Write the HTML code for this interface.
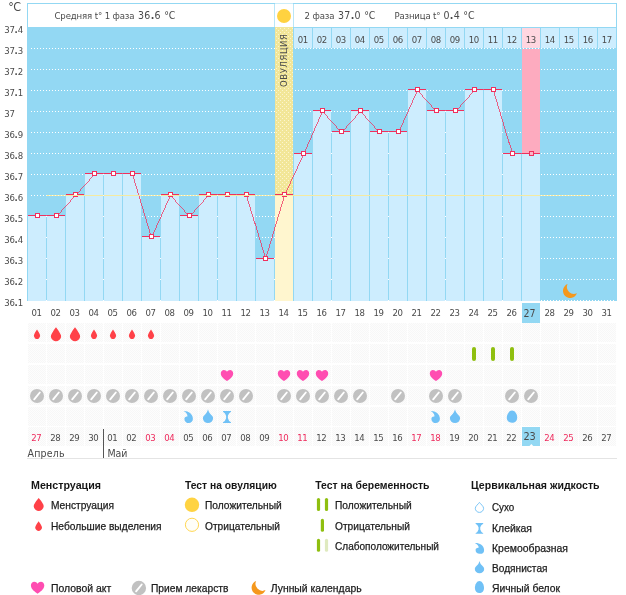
<!DOCTYPE html>
<html lang="ru">
<head>
<meta charset="utf-8">
<title>График базальной температуры</title>
<style>
html,body{margin:0;padding:0;background:#fff;}
body{width:626px;height:595px;overflow:hidden;font-family:'Liberation Sans', sans-serif;}
svg{display:block;font-family:'Liberation Sans', sans-serif;}
.c{font-family:'DejaVu Sans Condensed', 'DejaVu Sans', 'Liberation Sans', sans-serif;}
.l{font-family:'Liberation Sans', sans-serif;}
svg rect:not([rx]){shape-rendering:crispEdges;}
</style>
</head>
<body>
<svg width="626" height="595" viewBox="0 0 626 595">
<defs>
<pattern id="ydots" width="4" height="4" patternUnits="userSpaceOnUse" x="275" y="27">
<rect width="4" height="4" fill="#f2e698"/>
<rect x="1" y="1" width="1" height="1" fill="#fbf5cf"/>
<rect x="3" y="3" width="1" height="1" fill="#fbf5cf"/>
</pattern>
<pattern id="hatch" width="2" height="2" patternUnits="userSpaceOnUse">
<rect width="2" height="2" fill="#fdfdfd"/>
<rect width="1" height="1" fill="#f7f7f7"/>
<rect x="1" y="1" width="1" height="1" fill="#f7f7f7"/>
</pattern>
</defs>
<rect x="27" y="3" width="590" height="24" fill="#93d8f3"/>
<rect x="28" y="4" width="588" height="23" fill="#fff"/>
<rect x="274" y="4" width="1" height="23" fill="#b9e6f8"/>
<rect x="293" y="4" width="1" height="23" fill="#b9e6f8"/>
<rect x="275" y="3" width="18" height="1" fill="#c9ecfa"/>
<circle cx="284" cy="16" r="7" fill="#ffd240"/>
<rect x="27" y="27" width="590" height="274" fill="#93d8f3"/>
<rect x="294" y="28" width="18" height="20" fill="#cdedfe"/>
<rect x="313" y="28" width="18" height="20" fill="#cdedfe"/>
<rect x="332" y="28" width="18" height="20" fill="#cdedfe"/>
<rect x="351" y="28" width="18" height="20" fill="#cdedfe"/>
<rect x="370" y="28" width="18" height="20" fill="#cdedfe"/>
<rect x="389" y="28" width="18" height="20" fill="#cdedfe"/>
<rect x="408" y="28" width="18" height="20" fill="#cdedfe"/>
<rect x="427" y="28" width="18" height="20" fill="#cdedfe"/>
<rect x="446" y="28" width="18" height="20" fill="#cdedfe"/>
<rect x="465" y="28" width="18" height="20" fill="#cdedfe"/>
<rect x="484" y="28" width="18" height="20" fill="#cdedfe"/>
<rect x="503" y="28" width="18" height="20" fill="#cdedfe"/>
<rect x="522" y="28" width="18" height="20" fill="#ffd6e0"/>
<rect x="541" y="28" width="18" height="20" fill="#cdedfe"/>
<rect x="560" y="28" width="18" height="20" fill="#cdedfe"/>
<rect x="579" y="28" width="18" height="20" fill="#cdedfe"/>
<rect x="598" y="28" width="18" height="20" fill="#cdedfe"/>
<path d="M31 48.5H616" stroke="#fff" stroke-width="1" stroke-dasharray="1 2" shape-rendering="crispEdges"/>
<path d="M31 69.5H616" stroke="#fff" stroke-width="1" stroke-dasharray="1 2" shape-rendering="crispEdges"/>
<path d="M31 90.5H616" stroke="#fff" stroke-width="1" stroke-dasharray="1 2" shape-rendering="crispEdges"/>
<path d="M31 111.5H616" stroke="#fff" stroke-width="1" stroke-dasharray="1 2" shape-rendering="crispEdges"/>
<path d="M31 132.5H616" stroke="#fff" stroke-width="1" stroke-dasharray="1 2" shape-rendering="crispEdges"/>
<path d="M31 153.5H616" stroke="#fff" stroke-width="1" stroke-dasharray="1 2" shape-rendering="crispEdges"/>
<path d="M31 174.5H616" stroke="#fff" stroke-width="1" stroke-dasharray="1 2" shape-rendering="crispEdges"/>
<path d="M31 195.5H616" stroke="#fff" stroke-width="1" stroke-dasharray="1 2" shape-rendering="crispEdges"/>
<path d="M31 216.5H616" stroke="#fff" stroke-width="1" stroke-dasharray="1 2" shape-rendering="crispEdges"/>
<path d="M31 237.5H616" stroke="#fff" stroke-width="1" stroke-dasharray="1 2" shape-rendering="crispEdges"/>
<path d="M31 258.5H616" stroke="#fff" stroke-width="1" stroke-dasharray="1 2" shape-rendering="crispEdges"/>
<path d="M31 279.5H616" stroke="#fff" stroke-width="1" stroke-dasharray="1 2" shape-rendering="crispEdges"/>
<path d="M31 300.5H616" stroke="#fff" stroke-width="1" stroke-dasharray="1 2" shape-rendering="crispEdges"/>
<rect x="28" y="216" width="18" height="85" fill="#cdedfe"/>
<rect x="47" y="216" width="18" height="85" fill="#cdedfe"/>
<rect x="66" y="195" width="18" height="106" fill="#cdedfe"/>
<rect x="85" y="174" width="18" height="127" fill="#cdedfe"/>
<rect x="104" y="174" width="18" height="127" fill="#cdedfe"/>
<rect x="123" y="174" width="18" height="127" fill="#cdedfe"/>
<rect x="142" y="237" width="18" height="64" fill="#cdedfe"/>
<rect x="161" y="195" width="18" height="106" fill="#cdedfe"/>
<rect x="180" y="216" width="18" height="85" fill="#cdedfe"/>
<rect x="199" y="195" width="18" height="106" fill="#cdedfe"/>
<rect x="218" y="195" width="18" height="106" fill="#cdedfe"/>
<rect x="237" y="195" width="18" height="106" fill="#cdedfe"/>
<rect x="256" y="259" width="18" height="42" fill="#cdedfe"/>
<rect x="275" y="27" width="18" height="168" fill="url(#ydots)"/>
<rect x="275" y="195" width="18" height="106" fill="#fff6cf"/>
<rect x="294" y="154" width="18" height="147" fill="#cdedfe"/>
<rect x="313" y="111" width="18" height="190" fill="#cdedfe"/>
<rect x="332" y="132" width="18" height="169" fill="#cdedfe"/>
<rect x="351" y="111" width="18" height="190" fill="#cdedfe"/>
<rect x="370" y="132" width="18" height="169" fill="#cdedfe"/>
<rect x="389" y="132" width="18" height="169" fill="#cdedfe"/>
<rect x="408" y="90" width="18" height="211" fill="#cdedfe"/>
<rect x="427" y="111" width="18" height="190" fill="#cdedfe"/>
<rect x="446" y="111" width="18" height="190" fill="#cdedfe"/>
<rect x="465" y="90" width="18" height="211" fill="#cdedfe"/>
<rect x="484" y="90" width="18" height="211" fill="#cdedfe"/>
<rect x="503" y="154" width="18" height="147" fill="#cdedfe"/>
<rect x="522" y="49" width="18" height="105" fill="#fdabbf"/>
<rect x="522" y="154" width="18" height="147" fill="#cdedfe"/>
<rect x="28" y="215" width="18" height="1" fill="#f0305e"/>
<rect x="47" y="215" width="18" height="1" fill="#f0305e"/>
<rect x="66" y="194" width="18" height="1" fill="#f0305e"/>
<rect x="85" y="173" width="18" height="1" fill="#f0305e"/>
<rect x="104" y="173" width="18" height="1" fill="#f0305e"/>
<rect x="123" y="173" width="18" height="1" fill="#f0305e"/>
<rect x="142" y="236" width="18" height="1" fill="#f0305e"/>
<rect x="161" y="194" width="18" height="1" fill="#f0305e"/>
<rect x="180" y="215" width="18" height="1" fill="#f0305e"/>
<rect x="199" y="194" width="18" height="1" fill="#f0305e"/>
<rect x="218" y="194" width="18" height="1" fill="#f0305e"/>
<rect x="237" y="194" width="18" height="1" fill="#f0305e"/>
<rect x="256" y="258" width="18" height="1" fill="#f0305e"/>
<rect x="275" y="194" width="18" height="1" fill="#f0305e"/>
<rect x="294" y="153" width="18" height="1" fill="#f0305e"/>
<rect x="313" y="110" width="18" height="1" fill="#f0305e"/>
<rect x="332" y="131" width="18" height="1" fill="#f0305e"/>
<rect x="351" y="110" width="18" height="1" fill="#f0305e"/>
<rect x="370" y="131" width="18" height="1" fill="#f0305e"/>
<rect x="389" y="131" width="18" height="1" fill="#f0305e"/>
<rect x="408" y="89" width="18" height="1" fill="#f0305e"/>
<rect x="427" y="110" width="18" height="1" fill="#f0305e"/>
<rect x="446" y="110" width="18" height="1" fill="#f0305e"/>
<rect x="465" y="89" width="18" height="1" fill="#f0305e"/>
<rect x="484" y="89" width="18" height="1" fill="#f0305e"/>
<rect x="503" y="153" width="18" height="1" fill="#f0305e"/>
<rect x="522" y="153" width="18" height="1" fill="#f0305e"/>
<polyline points="37.5,215.5 56.5,215.5 75.5,194.5 94.5,173.5 113.5,173.5 132.5,173.5 151.5,236.5 170.5,194.5 189.5,215.5 208.5,194.5 227.5,194.5 246.5,194.5 265.5,258.5 284.5,194.5 303.5,153.5 322.5,110.5 341.5,131.5 360.5,110.5 379.5,131.5 398.5,131.5 417.5,89.5 436.5,110.5 455.5,110.5 474.5,89.5 493.5,89.5 512.5,153.5 531.5,153.5" fill="none" stroke="#f0305e" stroke-width="0.75" shape-rendering="crispEdges"/>
<rect x="35.5" y="213.5" width="4" height="4" fill="#fff" stroke="#f0305e" stroke-width="1"/>
<rect x="54.5" y="213.5" width="4" height="4" fill="#fff" stroke="#f0305e" stroke-width="1"/>
<rect x="73.5" y="192.5" width="4" height="4" fill="#fff" stroke="#f0305e" stroke-width="1"/>
<rect x="92.5" y="171.5" width="4" height="4" fill="#fff" stroke="#f0305e" stroke-width="1"/>
<rect x="111.5" y="171.5" width="4" height="4" fill="#fff" stroke="#f0305e" stroke-width="1"/>
<rect x="130.5" y="171.5" width="4" height="4" fill="#fff" stroke="#f0305e" stroke-width="1"/>
<rect x="149.5" y="234.5" width="4" height="4" fill="#fff" stroke="#f0305e" stroke-width="1"/>
<rect x="168.5" y="192.5" width="4" height="4" fill="#fff" stroke="#f0305e" stroke-width="1"/>
<rect x="187.5" y="213.5" width="4" height="4" fill="#fff" stroke="#f0305e" stroke-width="1"/>
<rect x="206.5" y="192.5" width="4" height="4" fill="#fff" stroke="#f0305e" stroke-width="1"/>
<rect x="225.5" y="192.5" width="4" height="4" fill="#fff" stroke="#f0305e" stroke-width="1"/>
<rect x="244.5" y="192.5" width="4" height="4" fill="#fff" stroke="#f0305e" stroke-width="1"/>
<rect x="263.5" y="256.5" width="4" height="4" fill="#fff" stroke="#f0305e" stroke-width="1"/>
<rect x="282.5" y="192.5" width="4" height="4" fill="#fff" stroke="#f0305e" stroke-width="1"/>
<rect x="301.5" y="151.5" width="4" height="4" fill="#fff" stroke="#f0305e" stroke-width="1"/>
<rect x="320.5" y="108.5" width="4" height="4" fill="#fff" stroke="#f0305e" stroke-width="1"/>
<rect x="339.5" y="129.5" width="4" height="4" fill="#fff" stroke="#f0305e" stroke-width="1"/>
<rect x="358.5" y="108.5" width="4" height="4" fill="#fff" stroke="#f0305e" stroke-width="1"/>
<rect x="377.5" y="129.5" width="4" height="4" fill="#fff" stroke="#f0305e" stroke-width="1"/>
<rect x="396.5" y="129.5" width="4" height="4" fill="#fff" stroke="#f0305e" stroke-width="1"/>
<rect x="415.5" y="87.5" width="4" height="4" fill="#fff" stroke="#f0305e" stroke-width="1"/>
<rect x="434.5" y="108.5" width="4" height="4" fill="#fff" stroke="#f0305e" stroke-width="1"/>
<rect x="453.5" y="108.5" width="4" height="4" fill="#fff" stroke="#f0305e" stroke-width="1"/>
<rect x="472.5" y="87.5" width="4" height="4" fill="#fff" stroke="#f0305e" stroke-width="1"/>
<rect x="491.5" y="87.5" width="4" height="4" fill="#fff" stroke="#f0305e" stroke-width="1"/>
<rect x="510.5" y="151.5" width="4" height="4" fill="#fff" stroke="#f0305e" stroke-width="1"/>
<rect x="529.5" y="151.5" width="4" height="4" fill="#fdb4c6" stroke="#f0305e" stroke-width="1"/>
<rect x="46" y="195" width="544" height="1" fill="#f5eaa0"/>
<path d="M46 195.5h1M49 195.5h1M52 195.5h1M55 195.5h1M58 195.5h1M61 195.5h1M64 195.5h1M103 195.5h1M142 195.5h1M145 195.5h1M148 195.5h1M151 195.5h1M154 195.5h1M157 195.5h1M160 195.5h1M181 195.5h1M184 195.5h1M187 195.5h1M190 195.5h1M193 195.5h1M196 195.5h1M217 195.5h1M256 195.5h1M259 195.5h1M262 195.5h1M265 195.5h1M268 195.5h1M271 195.5h1M331 195.5h1M388 195.5h1M445 195.5h1M502 195.5h1M541 195.5h1M544 195.5h1M547 195.5h1M550 195.5h1M553 195.5h1M556 195.5h1M559 195.5h1M562 195.5h1M565 195.5h1M568 195.5h1M571 195.5h1M574 195.5h1M577 195.5h1M580 195.5h1M583 195.5h1M586 195.5h1M589 195.5h1" stroke="#fff" stroke-opacity="0.7" stroke-width="1" shape-rendering="crispEdges"/>
<text class="c" transform="translate(287.2,87) rotate(-90)" font-size="9.5" fill="#4a4a4a" textLength="53" lengthAdjust="spacing">ОВУЛЯЦИЯ</text>
<text class="c" x="54.5" y="19" font-size="9.5" fill="#4a4a4a" textLength="80" lengthAdjust="spacing">Средняя t° 1 фаза</text>
<text class="c" x="138" y="19" font-size="10.5" fill="#4a4a4a" textLength="37.4" lengthAdjust="spacing">36<tspan font-weight="bold">.</tspan>6 °<tspan dx="-0.5">C</tspan></text>
<text class="c" x="304.5" y="19" font-size="9.5" fill="#4a4a4a" textLength="30" lengthAdjust="spacing">2 фаза</text>
<text class="c" x="338" y="19" font-size="10.5" fill="#4a4a4a" textLength="37.4" lengthAdjust="spacing">37<tspan font-weight="bold">.</tspan>0 °<tspan dx="-0.5">C</tspan></text>
<text class="c" x="394.5" y="19" font-size="9.5" fill="#4a4a4a" textLength="46" lengthAdjust="spacing">Разница t°</text>
<text class="c" x="443.5" y="19" font-size="10.5" fill="#4a4a4a" textLength="31" lengthAdjust="spacing">0<tspan font-weight="bold">.</tspan>4 °<tspan dx="-0.5">C</tspan></text>
<text class="c" x="8.2" y="11" font-size="12.4" fill="#4a4a4a">°<tspan dx="-0.6">C</tspan></text>
<text class="c" x="4.3 9.4 14.6 17.7" y="33" font-size="9.5" fill="#4a4a4a">37<tspan font-weight="bold">.</tspan>4</text>
<text class="c" x="4.3 9.4 14.6 17.7" y="54" font-size="9.5" fill="#4a4a4a">37<tspan font-weight="bold">.</tspan>3</text>
<text class="c" x="4.3 9.4 14.6 17.7" y="75" font-size="9.5" fill="#4a4a4a">37<tspan font-weight="bold">.</tspan>2</text>
<text class="c" x="4.3 9.4 14.6 17.7" y="96" font-size="9.5" fill="#4a4a4a">37<tspan font-weight="bold">.</tspan>1</text>
<text class="c" x="4.3 9.4" y="117" font-size="9.5" fill="#4a4a4a">37</text>
<text class="c" x="4.3 9.4 14.6 17.7" y="138" font-size="9.5" fill="#4a4a4a">36<tspan font-weight="bold">.</tspan>9</text>
<text class="c" x="4.3 9.4 14.6 17.7" y="159" font-size="9.5" fill="#4a4a4a">36<tspan font-weight="bold">.</tspan>8</text>
<text class="c" x="4.3 9.4 14.6 17.7" y="180" font-size="9.5" fill="#4a4a4a">36<tspan font-weight="bold">.</tspan>7</text>
<text class="c" x="4.3 9.4 14.6 17.7" y="201" font-size="9.5" fill="#4a4a4a">36<tspan font-weight="bold">.</tspan>6</text>
<text class="c" x="4.3 9.4 14.6 17.7" y="222" font-size="9.5" fill="#4a4a4a">36<tspan font-weight="bold">.</tspan>5</text>
<text class="c" x="4.3 9.4 14.6 17.7" y="243" font-size="9.5" fill="#4a4a4a">36<tspan font-weight="bold">.</tspan>4</text>
<text class="c" x="4.3 9.4 14.6 17.7" y="264" font-size="9.5" fill="#4a4a4a">36<tspan font-weight="bold">.</tspan>3</text>
<text class="c" x="4.3 9.4 14.6 17.7" y="285" font-size="9.5" fill="#4a4a4a">36<tspan font-weight="bold">.</tspan>2</text>
<text class="c" x="4.3 9.4 14.6 17.7" y="306" font-size="9.5" fill="#4a4a4a">36<tspan font-weight="bold">.</tspan>1</text>
<text class="c" x="303" y="43" font-size="9.5" fill="#4a4a4a" text-anchor="middle" textLength="10.5" lengthAdjust="spacing">01</text>
<text class="c" x="322" y="43" font-size="9.5" fill="#4a4a4a" text-anchor="middle" textLength="10.5" lengthAdjust="spacing">02</text>
<text class="c" x="341" y="43" font-size="9.5" fill="#4a4a4a" text-anchor="middle" textLength="10.5" lengthAdjust="spacing">03</text>
<text class="c" x="360" y="43" font-size="9.5" fill="#4a4a4a" text-anchor="middle" textLength="10.5" lengthAdjust="spacing">04</text>
<text class="c" x="379" y="43" font-size="9.5" fill="#4a4a4a" text-anchor="middle" textLength="10.5" lengthAdjust="spacing">05</text>
<text class="c" x="398" y="43" font-size="9.5" fill="#4a4a4a" text-anchor="middle" textLength="10.5" lengthAdjust="spacing">06</text>
<text class="c" x="417" y="43" font-size="9.5" fill="#4a4a4a" text-anchor="middle" textLength="10.5" lengthAdjust="spacing">07</text>
<text class="c" x="436" y="43" font-size="9.5" fill="#4a4a4a" text-anchor="middle" textLength="10.5" lengthAdjust="spacing">08</text>
<text class="c" x="455" y="43" font-size="9.5" fill="#4a4a4a" text-anchor="middle" textLength="10.5" lengthAdjust="spacing">09</text>
<text class="c" x="474" y="43" font-size="9.5" fill="#4a4a4a" text-anchor="middle" textLength="10.5" lengthAdjust="spacing">10</text>
<text class="c" x="493" y="43" font-size="9.5" fill="#4a4a4a" text-anchor="middle" textLength="10.5" lengthAdjust="spacing">11</text>
<text class="c" x="512" y="43" font-size="9.5" fill="#4a4a4a" text-anchor="middle" textLength="10.5" lengthAdjust="spacing">12</text>
<text class="c" x="531" y="43" font-size="9.5" fill="#4a4a4a" text-anchor="middle" textLength="10.5" lengthAdjust="spacing">13</text>
<text class="c" x="550" y="43" font-size="9.5" fill="#4a4a4a" text-anchor="middle" textLength="10.5" lengthAdjust="spacing">14</text>
<text class="c" x="569" y="43" font-size="9.5" fill="#4a4a4a" text-anchor="middle" textLength="10.5" lengthAdjust="spacing">15</text>
<text class="c" x="588" y="43" font-size="9.5" fill="#4a4a4a" text-anchor="middle" textLength="10.5" lengthAdjust="spacing">16</text>
<text class="c" x="607" y="43" font-size="9.5" fill="#4a4a4a" text-anchor="middle" textLength="10.5" lengthAdjust="spacing">17</text>
<text class="c" x="36.8" y="316" font-size="9.5" fill="#4a4a4a" text-anchor="middle" textLength="10.4" lengthAdjust="spacing">01</text>
<text class="c" x="55.8" y="316" font-size="9.5" fill="#4a4a4a" text-anchor="middle" textLength="10.4" lengthAdjust="spacing">02</text>
<text class="c" x="74.8" y="316" font-size="9.5" fill="#4a4a4a" text-anchor="middle" textLength="10.4" lengthAdjust="spacing">03</text>
<text class="c" x="93.8" y="316" font-size="9.5" fill="#4a4a4a" text-anchor="middle" textLength="10.4" lengthAdjust="spacing">04</text>
<text class="c" x="112.8" y="316" font-size="9.5" fill="#4a4a4a" text-anchor="middle" textLength="10.4" lengthAdjust="spacing">05</text>
<text class="c" x="131.8" y="316" font-size="9.5" fill="#4a4a4a" text-anchor="middle" textLength="10.4" lengthAdjust="spacing">06</text>
<text class="c" x="150.8" y="316" font-size="9.5" fill="#4a4a4a" text-anchor="middle" textLength="10.4" lengthAdjust="spacing">07</text>
<text class="c" x="169.8" y="316" font-size="9.5" fill="#4a4a4a" text-anchor="middle" textLength="10.4" lengthAdjust="spacing">08</text>
<text class="c" x="188.8" y="316" font-size="9.5" fill="#4a4a4a" text-anchor="middle" textLength="10.4" lengthAdjust="spacing">09</text>
<text class="c" x="207.8" y="316" font-size="9.5" fill="#4a4a4a" text-anchor="middle" textLength="10.4" lengthAdjust="spacing">10</text>
<text class="c" x="226.8" y="316" font-size="9.5" fill="#4a4a4a" text-anchor="middle" textLength="10.4" lengthAdjust="spacing">11</text>
<text class="c" x="245.8" y="316" font-size="9.5" fill="#4a4a4a" text-anchor="middle" textLength="10.4" lengthAdjust="spacing">12</text>
<text class="c" x="264.8" y="316" font-size="9.5" fill="#4a4a4a" text-anchor="middle" textLength="10.4" lengthAdjust="spacing">13</text>
<text class="c" x="283.8" y="316" font-size="9.5" fill="#4a4a4a" text-anchor="middle" textLength="10.4" lengthAdjust="spacing">14</text>
<text class="c" x="302.8" y="316" font-size="9.5" fill="#4a4a4a" text-anchor="middle" textLength="10.4" lengthAdjust="spacing">15</text>
<text class="c" x="321.8" y="316" font-size="9.5" fill="#4a4a4a" text-anchor="middle" textLength="10.4" lengthAdjust="spacing">16</text>
<text class="c" x="340.8" y="316" font-size="9.5" fill="#4a4a4a" text-anchor="middle" textLength="10.4" lengthAdjust="spacing">17</text>
<text class="c" x="359.8" y="316" font-size="9.5" fill="#4a4a4a" text-anchor="middle" textLength="10.4" lengthAdjust="spacing">18</text>
<text class="c" x="378.8" y="316" font-size="9.5" fill="#4a4a4a" text-anchor="middle" textLength="10.4" lengthAdjust="spacing">19</text>
<text class="c" x="397.8" y="316" font-size="9.5" fill="#4a4a4a" text-anchor="middle" textLength="10.4" lengthAdjust="spacing">20</text>
<text class="c" x="416.8" y="316" font-size="9.5" fill="#4a4a4a" text-anchor="middle" textLength="10.4" lengthAdjust="spacing">21</text>
<text class="c" x="435.8" y="316" font-size="9.5" fill="#4a4a4a" text-anchor="middle" textLength="10.4" lengthAdjust="spacing">22</text>
<text class="c" x="454.8" y="316" font-size="9.5" fill="#4a4a4a" text-anchor="middle" textLength="10.4" lengthAdjust="spacing">23</text>
<text class="c" x="473.8" y="316" font-size="9.5" fill="#4a4a4a" text-anchor="middle" textLength="10.4" lengthAdjust="spacing">24</text>
<text class="c" x="492.8" y="316" font-size="9.5" fill="#4a4a4a" text-anchor="middle" textLength="10.4" lengthAdjust="spacing">25</text>
<text class="c" x="511.8" y="316" font-size="9.5" fill="#4a4a4a" text-anchor="middle" textLength="10.4" lengthAdjust="spacing">26</text>
<rect x="522" y="303" width="18" height="20" fill="#93d8f3"/>
<text class="c" x="523.5" y="317" font-size="10.5" fill="#4a4a4a" textLength="12" lengthAdjust="spacingAndGlyphs">27</text>
<text class="c" x="549.8" y="316" font-size="9.5" fill="#4a4a4a" text-anchor="middle" textLength="10.4" lengthAdjust="spacing">28</text>
<text class="c" x="568.8" y="316" font-size="9.5" fill="#4a4a4a" text-anchor="middle" textLength="10.4" lengthAdjust="spacing">29</text>
<text class="c" x="587.8" y="316" font-size="9.5" fill="#4a4a4a" text-anchor="middle" textLength="10.4" lengthAdjust="spacing">30</text>
<text class="c" x="606.8" y="316" font-size="9.5" fill="#4a4a4a" text-anchor="middle" textLength="10.4" lengthAdjust="spacing">31</text>
<rect x="28" y="323" width="18" height="19" fill="url(#hatch)"/>
<rect x="47" y="323" width="18" height="19" fill="url(#hatch)"/>
<rect x="66" y="323" width="18" height="19" fill="url(#hatch)"/>
<rect x="85" y="323" width="18" height="19" fill="url(#hatch)"/>
<rect x="104" y="323" width="18" height="19" fill="url(#hatch)"/>
<rect x="123" y="323" width="18" height="19" fill="url(#hatch)"/>
<rect x="142" y="323" width="18" height="19" fill="url(#hatch)"/>
<rect x="161" y="323" width="18" height="19" fill="url(#hatch)"/>
<rect x="180" y="323" width="18" height="19" fill="url(#hatch)"/>
<rect x="199" y="323" width="18" height="19" fill="url(#hatch)"/>
<rect x="218" y="323" width="18" height="19" fill="url(#hatch)"/>
<rect x="237" y="323" width="18" height="19" fill="url(#hatch)"/>
<rect x="256" y="323" width="18" height="19" fill="url(#hatch)"/>
<rect x="275" y="323" width="18" height="19" fill="url(#hatch)"/>
<rect x="294" y="323" width="18" height="19" fill="url(#hatch)"/>
<rect x="313" y="323" width="18" height="19" fill="url(#hatch)"/>
<rect x="332" y="323" width="18" height="19" fill="url(#hatch)"/>
<rect x="351" y="323" width="18" height="19" fill="url(#hatch)"/>
<rect x="370" y="323" width="18" height="19" fill="url(#hatch)"/>
<rect x="389" y="323" width="18" height="19" fill="url(#hatch)"/>
<rect x="408" y="323" width="18" height="19" fill="url(#hatch)"/>
<rect x="427" y="323" width="18" height="19" fill="url(#hatch)"/>
<rect x="446" y="323" width="18" height="19" fill="url(#hatch)"/>
<rect x="465" y="323" width="18" height="19" fill="url(#hatch)"/>
<rect x="484" y="323" width="18" height="19" fill="url(#hatch)"/>
<rect x="503" y="323" width="18" height="19" fill="url(#hatch)"/>
<rect x="522" y="323" width="18" height="19" fill="url(#hatch)"/>
<rect x="541" y="323" width="18" height="19" fill="url(#hatch)"/>
<rect x="560" y="323" width="18" height="19" fill="url(#hatch)"/>
<rect x="579" y="323" width="18" height="19" fill="url(#hatch)"/>
<rect x="598" y="323" width="18" height="19" fill="url(#hatch)"/>
<rect x="28" y="344" width="18" height="19" fill="url(#hatch)"/>
<rect x="47" y="344" width="18" height="19" fill="url(#hatch)"/>
<rect x="66" y="344" width="18" height="19" fill="url(#hatch)"/>
<rect x="85" y="344" width="18" height="19" fill="url(#hatch)"/>
<rect x="104" y="344" width="18" height="19" fill="url(#hatch)"/>
<rect x="123" y="344" width="18" height="19" fill="url(#hatch)"/>
<rect x="142" y="344" width="18" height="19" fill="url(#hatch)"/>
<rect x="161" y="344" width="18" height="19" fill="url(#hatch)"/>
<rect x="180" y="344" width="18" height="19" fill="url(#hatch)"/>
<rect x="199" y="344" width="18" height="19" fill="url(#hatch)"/>
<rect x="218" y="344" width="18" height="19" fill="url(#hatch)"/>
<rect x="237" y="344" width="18" height="19" fill="url(#hatch)"/>
<rect x="256" y="344" width="18" height="19" fill="url(#hatch)"/>
<rect x="275" y="344" width="18" height="19" fill="url(#hatch)"/>
<rect x="294" y="344" width="18" height="19" fill="url(#hatch)"/>
<rect x="313" y="344" width="18" height="19" fill="url(#hatch)"/>
<rect x="332" y="344" width="18" height="19" fill="url(#hatch)"/>
<rect x="351" y="344" width="18" height="19" fill="url(#hatch)"/>
<rect x="370" y="344" width="18" height="19" fill="url(#hatch)"/>
<rect x="389" y="344" width="18" height="19" fill="url(#hatch)"/>
<rect x="408" y="344" width="18" height="19" fill="url(#hatch)"/>
<rect x="427" y="344" width="18" height="19" fill="url(#hatch)"/>
<rect x="446" y="344" width="18" height="19" fill="url(#hatch)"/>
<rect x="465" y="344" width="18" height="19" fill="url(#hatch)"/>
<rect x="484" y="344" width="18" height="19" fill="url(#hatch)"/>
<rect x="503" y="344" width="18" height="19" fill="url(#hatch)"/>
<rect x="522" y="344" width="18" height="19" fill="url(#hatch)"/>
<rect x="541" y="344" width="18" height="19" fill="url(#hatch)"/>
<rect x="560" y="344" width="18" height="19" fill="url(#hatch)"/>
<rect x="579" y="344" width="18" height="19" fill="url(#hatch)"/>
<rect x="598" y="344" width="18" height="19" fill="url(#hatch)"/>
<rect x="28" y="365" width="18" height="19" fill="url(#hatch)"/>
<rect x="47" y="365" width="18" height="19" fill="url(#hatch)"/>
<rect x="66" y="365" width="18" height="19" fill="url(#hatch)"/>
<rect x="85" y="365" width="18" height="19" fill="url(#hatch)"/>
<rect x="104" y="365" width="18" height="19" fill="url(#hatch)"/>
<rect x="123" y="365" width="18" height="19" fill="url(#hatch)"/>
<rect x="142" y="365" width="18" height="19" fill="url(#hatch)"/>
<rect x="161" y="365" width="18" height="19" fill="url(#hatch)"/>
<rect x="180" y="365" width="18" height="19" fill="url(#hatch)"/>
<rect x="199" y="365" width="18" height="19" fill="url(#hatch)"/>
<rect x="218" y="365" width="18" height="19" fill="url(#hatch)"/>
<rect x="237" y="365" width="18" height="19" fill="url(#hatch)"/>
<rect x="256" y="365" width="18" height="19" fill="url(#hatch)"/>
<rect x="275" y="365" width="18" height="19" fill="url(#hatch)"/>
<rect x="294" y="365" width="18" height="19" fill="url(#hatch)"/>
<rect x="313" y="365" width="18" height="19" fill="url(#hatch)"/>
<rect x="332" y="365" width="18" height="19" fill="url(#hatch)"/>
<rect x="351" y="365" width="18" height="19" fill="url(#hatch)"/>
<rect x="370" y="365" width="18" height="19" fill="url(#hatch)"/>
<rect x="389" y="365" width="18" height="19" fill="url(#hatch)"/>
<rect x="408" y="365" width="18" height="19" fill="url(#hatch)"/>
<rect x="427" y="365" width="18" height="19" fill="url(#hatch)"/>
<rect x="446" y="365" width="18" height="19" fill="url(#hatch)"/>
<rect x="465" y="365" width="18" height="19" fill="url(#hatch)"/>
<rect x="484" y="365" width="18" height="19" fill="url(#hatch)"/>
<rect x="503" y="365" width="18" height="19" fill="url(#hatch)"/>
<rect x="522" y="365" width="18" height="19" fill="url(#hatch)"/>
<rect x="541" y="365" width="18" height="19" fill="url(#hatch)"/>
<rect x="560" y="365" width="18" height="19" fill="url(#hatch)"/>
<rect x="579" y="365" width="18" height="19" fill="url(#hatch)"/>
<rect x="598" y="365" width="18" height="19" fill="url(#hatch)"/>
<rect x="28" y="386" width="18" height="19" fill="url(#hatch)"/>
<rect x="47" y="386" width="18" height="19" fill="url(#hatch)"/>
<rect x="66" y="386" width="18" height="19" fill="url(#hatch)"/>
<rect x="85" y="386" width="18" height="19" fill="url(#hatch)"/>
<rect x="104" y="386" width="18" height="19" fill="url(#hatch)"/>
<rect x="123" y="386" width="18" height="19" fill="url(#hatch)"/>
<rect x="142" y="386" width="18" height="19" fill="url(#hatch)"/>
<rect x="161" y="386" width="18" height="19" fill="url(#hatch)"/>
<rect x="180" y="386" width="18" height="19" fill="url(#hatch)"/>
<rect x="199" y="386" width="18" height="19" fill="url(#hatch)"/>
<rect x="218" y="386" width="18" height="19" fill="url(#hatch)"/>
<rect x="237" y="386" width="18" height="19" fill="url(#hatch)"/>
<rect x="256" y="386" width="18" height="19" fill="url(#hatch)"/>
<rect x="275" y="386" width="18" height="19" fill="url(#hatch)"/>
<rect x="294" y="386" width="18" height="19" fill="url(#hatch)"/>
<rect x="313" y="386" width="18" height="19" fill="url(#hatch)"/>
<rect x="332" y="386" width="18" height="19" fill="url(#hatch)"/>
<rect x="351" y="386" width="18" height="19" fill="url(#hatch)"/>
<rect x="370" y="386" width="18" height="19" fill="url(#hatch)"/>
<rect x="389" y="386" width="18" height="19" fill="url(#hatch)"/>
<rect x="408" y="386" width="18" height="19" fill="url(#hatch)"/>
<rect x="427" y="386" width="18" height="19" fill="url(#hatch)"/>
<rect x="446" y="386" width="18" height="19" fill="url(#hatch)"/>
<rect x="465" y="386" width="18" height="19" fill="url(#hatch)"/>
<rect x="484" y="386" width="18" height="19" fill="url(#hatch)"/>
<rect x="503" y="386" width="18" height="19" fill="url(#hatch)"/>
<rect x="522" y="386" width="18" height="19" fill="url(#hatch)"/>
<rect x="541" y="386" width="18" height="19" fill="url(#hatch)"/>
<rect x="560" y="386" width="18" height="19" fill="url(#hatch)"/>
<rect x="579" y="386" width="18" height="19" fill="url(#hatch)"/>
<rect x="598" y="386" width="18" height="19" fill="url(#hatch)"/>
<rect x="28" y="407" width="18" height="19" fill="url(#hatch)"/>
<rect x="47" y="407" width="18" height="19" fill="url(#hatch)"/>
<rect x="66" y="407" width="18" height="19" fill="url(#hatch)"/>
<rect x="85" y="407" width="18" height="19" fill="url(#hatch)"/>
<rect x="104" y="407" width="18" height="19" fill="url(#hatch)"/>
<rect x="123" y="407" width="18" height="19" fill="url(#hatch)"/>
<rect x="142" y="407" width="18" height="19" fill="url(#hatch)"/>
<rect x="161" y="407" width="18" height="19" fill="url(#hatch)"/>
<rect x="180" y="407" width="18" height="19" fill="url(#hatch)"/>
<rect x="199" y="407" width="18" height="19" fill="url(#hatch)"/>
<rect x="218" y="407" width="18" height="19" fill="url(#hatch)"/>
<rect x="237" y="407" width="18" height="19" fill="url(#hatch)"/>
<rect x="256" y="407" width="18" height="19" fill="url(#hatch)"/>
<rect x="275" y="407" width="18" height="19" fill="url(#hatch)"/>
<rect x="294" y="407" width="18" height="19" fill="url(#hatch)"/>
<rect x="313" y="407" width="18" height="19" fill="url(#hatch)"/>
<rect x="332" y="407" width="18" height="19" fill="url(#hatch)"/>
<rect x="351" y="407" width="18" height="19" fill="url(#hatch)"/>
<rect x="370" y="407" width="18" height="19" fill="url(#hatch)"/>
<rect x="389" y="407" width="18" height="19" fill="url(#hatch)"/>
<rect x="408" y="407" width="18" height="19" fill="url(#hatch)"/>
<rect x="427" y="407" width="18" height="19" fill="url(#hatch)"/>
<rect x="446" y="407" width="18" height="19" fill="url(#hatch)"/>
<rect x="465" y="407" width="18" height="19" fill="url(#hatch)"/>
<rect x="484" y="407" width="18" height="19" fill="url(#hatch)"/>
<rect x="503" y="407" width="18" height="19" fill="url(#hatch)"/>
<rect x="522" y="407" width="18" height="19" fill="url(#hatch)"/>
<rect x="541" y="407" width="18" height="19" fill="url(#hatch)"/>
<rect x="560" y="407" width="18" height="19" fill="url(#hatch)"/>
<rect x="579" y="407" width="18" height="19" fill="url(#hatch)"/>
<rect x="598" y="407" width="18" height="19" fill="url(#hatch)"/>
<rect x="28" y="427" width="18" height="19" fill="url(#hatch)"/>
<rect x="47" y="427" width="18" height="19" fill="url(#hatch)"/>
<rect x="66" y="427" width="18" height="19" fill="url(#hatch)"/>
<rect x="85" y="427" width="18" height="19" fill="url(#hatch)"/>
<rect x="104" y="427" width="18" height="19" fill="url(#hatch)"/>
<rect x="123" y="427" width="18" height="19" fill="url(#hatch)"/>
<rect x="142" y="427" width="18" height="19" fill="url(#hatch)"/>
<rect x="161" y="427" width="18" height="19" fill="url(#hatch)"/>
<rect x="180" y="427" width="18" height="19" fill="url(#hatch)"/>
<rect x="199" y="427" width="18" height="19" fill="url(#hatch)"/>
<rect x="218" y="427" width="18" height="19" fill="url(#hatch)"/>
<rect x="237" y="427" width="18" height="19" fill="url(#hatch)"/>
<rect x="256" y="427" width="18" height="19" fill="url(#hatch)"/>
<rect x="275" y="427" width="18" height="19" fill="url(#hatch)"/>
<rect x="294" y="427" width="18" height="19" fill="url(#hatch)"/>
<rect x="313" y="427" width="18" height="19" fill="url(#hatch)"/>
<rect x="332" y="427" width="18" height="19" fill="url(#hatch)"/>
<rect x="351" y="427" width="18" height="19" fill="url(#hatch)"/>
<rect x="370" y="427" width="18" height="19" fill="url(#hatch)"/>
<rect x="389" y="427" width="18" height="19" fill="url(#hatch)"/>
<rect x="408" y="427" width="18" height="19" fill="url(#hatch)"/>
<rect x="427" y="427" width="18" height="19" fill="url(#hatch)"/>
<rect x="446" y="427" width="18" height="19" fill="url(#hatch)"/>
<rect x="465" y="427" width="18" height="19" fill="url(#hatch)"/>
<rect x="484" y="427" width="18" height="19" fill="url(#hatch)"/>
<rect x="503" y="427" width="18" height="19" fill="url(#hatch)"/>
<rect x="522" y="427" width="18" height="19" fill="url(#hatch)"/>
<rect x="541" y="427" width="18" height="19" fill="url(#hatch)"/>
<rect x="560" y="427" width="18" height="19" fill="url(#hatch)"/>
<rect x="579" y="427" width="18" height="19" fill="url(#hatch)"/>
<rect x="598" y="427" width="18" height="19" fill="url(#hatch)"/>
<path transform="translate(570,291)" d="M-2.45 -6.9A7.2 7.2 0 1 0 6.95 2.3A7 7 0 0 1 -2.45 -6.9Z" fill="#f5981c"/>
<path d="M37 329.4Q38.77 331.90 39.77 334.20A3.2 3.2 0 1 1 34.23 334.20Q35.23 331.90 37 329.4Z" fill="#ff4148"/>
<path d="M56 327.2Q58.66 330.41 60.12 333.41A4.95 4.95 0 1 1 51.88 333.41Q53.34 330.41 56 327.2Z" fill="#ff4148"/>
<path d="M75 327.2Q77.66 330.41 79.12 333.41A4.95 4.95 0 1 1 70.88 333.41Q72.34 330.41 75 327.2Z" fill="#ff4148"/>
<path d="M94 329.4Q95.77 331.90 96.77 334.20A3.2 3.2 0 1 1 91.23 334.20Q92.23 331.90 94 329.4Z" fill="#ff4148"/>
<path d="M113 329.4Q114.77 331.90 115.77 334.20A3.2 3.2 0 1 1 110.23 334.20Q111.23 331.90 113 329.4Z" fill="#ff4148"/>
<path d="M132 329.4Q133.77 331.90 134.77 334.20A3.2 3.2 0 1 1 129.23 334.20Q130.23 331.90 132 329.4Z" fill="#ff4148"/>
<path d="M151 329.4Q152.77 331.90 153.77 334.20A3.2 3.2 0 1 1 148.23 334.20Q149.23 331.90 151 329.4Z" fill="#ff4148"/>
<rect x="472.0" y="347.0" width="4" height="14" rx="2.0" fill="#8fbf10"/>
<rect x="491.0" y="347.0" width="4" height="14" rx="2.0" fill="#8fbf10"/>
<rect x="510.0" y="347.0" width="4" height="14" rx="2.0" fill="#8fbf10"/>
<path transform="translate(227,375.5) scale(1)" d="M0 5.6C-2.2 3.9 -6.2 1.4 -6.2 -2.1C-6.2 -4.2 -4.7 -5.6 -3.1 -5.6C-1.8 -5.6 -0.6 -4.9 0 -3.7C0.6 -4.9 1.8 -5.6 3.1 -5.6C4.7 -5.6 6.2 -4.2 6.2 -2.1C6.2 1.4 2.2 3.9 0 5.6Z" fill="#ff4db1"/>
<path transform="translate(284,375.5) scale(1)" d="M0 5.6C-2.2 3.9 -6.2 1.4 -6.2 -2.1C-6.2 -4.2 -4.7 -5.6 -3.1 -5.6C-1.8 -5.6 -0.6 -4.9 0 -3.7C0.6 -4.9 1.8 -5.6 3.1 -5.6C4.7 -5.6 6.2 -4.2 6.2 -2.1C6.2 1.4 2.2 3.9 0 5.6Z" fill="#ff4db1"/>
<path transform="translate(303,375.5) scale(1)" d="M0 5.6C-2.2 3.9 -6.2 1.4 -6.2 -2.1C-6.2 -4.2 -4.7 -5.6 -3.1 -5.6C-1.8 -5.6 -0.6 -4.9 0 -3.7C0.6 -4.9 1.8 -5.6 3.1 -5.6C4.7 -5.6 6.2 -4.2 6.2 -2.1C6.2 1.4 2.2 3.9 0 5.6Z" fill="#ff4db1"/>
<path transform="translate(322,375.5) scale(1)" d="M0 5.6C-2.2 3.9 -6.2 1.4 -6.2 -2.1C-6.2 -4.2 -4.7 -5.6 -3.1 -5.6C-1.8 -5.6 -0.6 -4.9 0 -3.7C0.6 -4.9 1.8 -5.6 3.1 -5.6C4.7 -5.6 6.2 -4.2 6.2 -2.1C6.2 1.4 2.2 3.9 0 5.6Z" fill="#ff4db1"/>
<path transform="translate(436,375.5) scale(1)" d="M0 5.6C-2.2 3.9 -6.2 1.4 -6.2 -2.1C-6.2 -4.2 -4.7 -5.6 -3.1 -5.6C-1.8 -5.6 -0.6 -4.9 0 -3.7C0.6 -4.9 1.8 -5.6 3.1 -5.6C4.7 -5.6 6.2 -4.2 6.2 -2.1C6.2 1.4 2.2 3.9 0 5.6Z" fill="#ff4db1"/>
<g transform="translate(37,396)"><circle r="7" fill="#c1c1c1"/><path d="M-2.8 3.3L2.8 -3.5" stroke="#fff" stroke-width="1.9" stroke-linecap="round"/></g>
<g transform="translate(56,396)"><circle r="7" fill="#c1c1c1"/><path d="M-2.8 3.3L2.8 -3.5" stroke="#fff" stroke-width="1.9" stroke-linecap="round"/></g>
<g transform="translate(75,396)"><circle r="7" fill="#c1c1c1"/><path d="M-2.8 3.3L2.8 -3.5" stroke="#fff" stroke-width="1.9" stroke-linecap="round"/></g>
<g transform="translate(94,396)"><circle r="7" fill="#c1c1c1"/><path d="M-2.8 3.3L2.8 -3.5" stroke="#fff" stroke-width="1.9" stroke-linecap="round"/></g>
<g transform="translate(113,396)"><circle r="7" fill="#c1c1c1"/><path d="M-2.8 3.3L2.8 -3.5" stroke="#fff" stroke-width="1.9" stroke-linecap="round"/></g>
<g transform="translate(132,396)"><circle r="7" fill="#c1c1c1"/><path d="M-2.8 3.3L2.8 -3.5" stroke="#fff" stroke-width="1.9" stroke-linecap="round"/></g>
<g transform="translate(151,396)"><circle r="7" fill="#c1c1c1"/><path d="M-2.8 3.3L2.8 -3.5" stroke="#fff" stroke-width="1.9" stroke-linecap="round"/></g>
<g transform="translate(170,396)"><circle r="7" fill="#c1c1c1"/><path d="M-2.8 3.3L2.8 -3.5" stroke="#fff" stroke-width="1.9" stroke-linecap="round"/></g>
<g transform="translate(189,396)"><circle r="7" fill="#c1c1c1"/><path d="M-2.8 3.3L2.8 -3.5" stroke="#fff" stroke-width="1.9" stroke-linecap="round"/></g>
<g transform="translate(208,396)"><circle r="7" fill="#c1c1c1"/><path d="M-2.8 3.3L2.8 -3.5" stroke="#fff" stroke-width="1.9" stroke-linecap="round"/></g>
<g transform="translate(227,396)"><circle r="7" fill="#c1c1c1"/><path d="M-2.8 3.3L2.8 -3.5" stroke="#fff" stroke-width="1.9" stroke-linecap="round"/></g>
<g transform="translate(246,396)"><circle r="7" fill="#c1c1c1"/><path d="M-2.8 3.3L2.8 -3.5" stroke="#fff" stroke-width="1.9" stroke-linecap="round"/></g>
<g transform="translate(284,396)"><circle r="7" fill="#c1c1c1"/><path d="M-2.8 3.3L2.8 -3.5" stroke="#fff" stroke-width="1.9" stroke-linecap="round"/></g>
<g transform="translate(303,396)"><circle r="7" fill="#c1c1c1"/><path d="M-2.8 3.3L2.8 -3.5" stroke="#fff" stroke-width="1.9" stroke-linecap="round"/></g>
<g transform="translate(322,396)"><circle r="7" fill="#c1c1c1"/><path d="M-2.8 3.3L2.8 -3.5" stroke="#fff" stroke-width="1.9" stroke-linecap="round"/></g>
<g transform="translate(341,396)"><circle r="7" fill="#c1c1c1"/><path d="M-2.8 3.3L2.8 -3.5" stroke="#fff" stroke-width="1.9" stroke-linecap="round"/></g>
<g transform="translate(360,396)"><circle r="7" fill="#c1c1c1"/><path d="M-2.8 3.3L2.8 -3.5" stroke="#fff" stroke-width="1.9" stroke-linecap="round"/></g>
<g transform="translate(398,396)"><circle r="7" fill="#c1c1c1"/><path d="M-2.8 3.3L2.8 -3.5" stroke="#fff" stroke-width="1.9" stroke-linecap="round"/></g>
<g transform="translate(436,396)"><circle r="7" fill="#c1c1c1"/><path d="M-2.8 3.3L2.8 -3.5" stroke="#fff" stroke-width="1.9" stroke-linecap="round"/></g>
<g transform="translate(455,396)"><circle r="7" fill="#c1c1c1"/><path d="M-2.8 3.3L2.8 -3.5" stroke="#fff" stroke-width="1.9" stroke-linecap="round"/></g>
<g transform="translate(512,396)"><circle r="7" fill="#c1c1c1"/><path d="M-2.8 3.3L2.8 -3.5" stroke="#fff" stroke-width="1.9" stroke-linecap="round"/></g>
<g transform="translate(531,396)"><circle r="7" fill="#c1c1c1"/><path d="M-2.8 3.3L2.8 -3.5" stroke="#fff" stroke-width="1.9" stroke-linecap="round"/></g>
<path transform="translate(188.4,417) scale(1,1)" d="M-4.8 -6C-0.6 -6.4 4.5 -3.4 4.5 1.7A4.25 4.25 0 0 1 -4 1.9C-4.1 0.3 -2.9 -0.8 -1 -0.6C-0.5 -2.6 -2.4 -4.8 -4.8 -6Z" fill="#70c1f6"/>
<path transform="translate(208,416.5) scale(1,1)" d="M0 -7.2C0.5 -5.6 0.9 -4.2 2 -2.9C3.4 -1.3 5.1 -0.2 5.1 1.8A5.1 4.8 0 0 1 -5.1 1.8C-5.1 -0.2 -3.4 -1.3 -2 -2.9C-0.9 -4.2 -0.5 -5.6 0 -7.2Z" fill="#70c1f6"/>
<path transform="translate(227,417) scale(1,1)" d="M-4 -6H4V-5.3Q1.6 -4 0.9 -1.2V1.2Q1.6 4 4 5.3V6H-4V5.3Q-1.6 4 -0.9 1.2V-1.2Q-1.6 -4 -4 -5.3Z" fill="#70c1f6"/>
<path transform="translate(435.4,417) scale(1,1)" d="M-4.8 -6C-0.6 -6.4 4.5 -3.4 4.5 1.7A4.25 4.25 0 0 1 -4 1.9C-4.1 0.3 -2.9 -0.8 -1 -0.6C-0.5 -2.6 -2.4 -4.8 -4.8 -6Z" fill="#70c1f6"/>
<path transform="translate(455,416.5) scale(1,1)" d="M0 -7.2C0.5 -5.6 0.9 -4.2 2 -2.9C3.4 -1.3 5.1 -0.2 5.1 1.8A5.1 4.8 0 0 1 -5.1 1.8C-5.1 -0.2 -3.4 -1.3 -2 -2.9C-0.9 -4.2 -0.5 -5.6 0 -7.2Z" fill="#70c1f6"/>
<path transform="translate(512,416.8) scale(1,1)" d="M0 -6.2C2.9 -6.2 5.2 -2.6 5.2 0.9C5.2 4 3 6 0 6C-3 6 -5.2 4 -5.2 0.9C-5.2 -2.6 -2.9 -6.2 0 -6.2Z" fill="#70c1f6"/>
<text class="c" x="36.5" y="441" font-size="9.5" fill="#ee2a5c" text-anchor="middle" textLength="10.5" lengthAdjust="spacing">27</text>
<text class="c" x="55.5" y="441" font-size="9.5" fill="#4a4a4a" text-anchor="middle" textLength="10.5" lengthAdjust="spacing">28</text>
<text class="c" x="74.5" y="441" font-size="9.5" fill="#4a4a4a" text-anchor="middle" textLength="10.5" lengthAdjust="spacing">29</text>
<text class="c" x="93.5" y="441" font-size="9.5" fill="#4a4a4a" text-anchor="middle" textLength="10.5" lengthAdjust="spacing">30</text>
<text class="c" x="112.5" y="441" font-size="9.5" fill="#4a4a4a" text-anchor="middle" textLength="10.5" lengthAdjust="spacing">01</text>
<text class="c" x="131.5" y="441" font-size="9.5" fill="#4a4a4a" text-anchor="middle" textLength="10.5" lengthAdjust="spacing">02</text>
<text class="c" x="150.5" y="441" font-size="9.5" fill="#ee2a5c" text-anchor="middle" textLength="10.5" lengthAdjust="spacing">03</text>
<text class="c" x="169.5" y="441" font-size="9.5" fill="#ee2a5c" text-anchor="middle" textLength="10.5" lengthAdjust="spacing">04</text>
<text class="c" x="188.5" y="441" font-size="9.5" fill="#4a4a4a" text-anchor="middle" textLength="10.5" lengthAdjust="spacing">05</text>
<text class="c" x="207.5" y="441" font-size="9.5" fill="#4a4a4a" text-anchor="middle" textLength="10.5" lengthAdjust="spacing">06</text>
<text class="c" x="226.5" y="441" font-size="9.5" fill="#4a4a4a" text-anchor="middle" textLength="10.5" lengthAdjust="spacing">07</text>
<text class="c" x="245.5" y="441" font-size="9.5" fill="#4a4a4a" text-anchor="middle" textLength="10.5" lengthAdjust="spacing">08</text>
<text class="c" x="264.5" y="441" font-size="9.5" fill="#4a4a4a" text-anchor="middle" textLength="10.5" lengthAdjust="spacing">09</text>
<text class="c" x="283.5" y="441" font-size="9.5" fill="#ee2a5c" text-anchor="middle" textLength="10.5" lengthAdjust="spacing">10</text>
<text class="c" x="302.5" y="441" font-size="9.5" fill="#ee2a5c" text-anchor="middle" textLength="10.5" lengthAdjust="spacing">11</text>
<text class="c" x="321.5" y="441" font-size="9.5" fill="#4a4a4a" text-anchor="middle" textLength="10.5" lengthAdjust="spacing">12</text>
<text class="c" x="340.5" y="441" font-size="9.5" fill="#4a4a4a" text-anchor="middle" textLength="10.5" lengthAdjust="spacing">13</text>
<text class="c" x="359.5" y="441" font-size="9.5" fill="#4a4a4a" text-anchor="middle" textLength="10.5" lengthAdjust="spacing">14</text>
<text class="c" x="378.5" y="441" font-size="9.5" fill="#4a4a4a" text-anchor="middle" textLength="10.5" lengthAdjust="spacing">15</text>
<text class="c" x="397.5" y="441" font-size="9.5" fill="#4a4a4a" text-anchor="middle" textLength="10.5" lengthAdjust="spacing">16</text>
<text class="c" x="416.5" y="441" font-size="9.5" fill="#ee2a5c" text-anchor="middle" textLength="10.5" lengthAdjust="spacing">17</text>
<text class="c" x="435.5" y="441" font-size="9.5" fill="#ee2a5c" text-anchor="middle" textLength="10.5" lengthAdjust="spacing">18</text>
<text class="c" x="454.5" y="441" font-size="9.5" fill="#4a4a4a" text-anchor="middle" textLength="10.5" lengthAdjust="spacing">19</text>
<text class="c" x="473.5" y="441" font-size="9.5" fill="#4a4a4a" text-anchor="middle" textLength="10.5" lengthAdjust="spacing">20</text>
<text class="c" x="492.5" y="441" font-size="9.5" fill="#4a4a4a" text-anchor="middle" textLength="10.5" lengthAdjust="spacing">21</text>
<text class="c" x="511.5" y="441" font-size="9.5" fill="#4a4a4a" text-anchor="middle" textLength="10.5" lengthAdjust="spacing">22</text>
<rect x="522" y="427" width="18" height="19" fill="#93d8f3"/>
<path d="M529.3 446.2L531.4 443.9L533.5 446.2Z" fill="#fff"/>
<text class="c" x="523.4" y="440" font-size="10.5" fill="#4a4a4a" textLength="12.4" lengthAdjust="spacingAndGlyphs">23</text>
<text class="c" x="549.5" y="441" font-size="9.5" fill="#ee2a5c" text-anchor="middle" textLength="10.5" lengthAdjust="spacing">24</text>
<text class="c" x="568.5" y="441" font-size="9.5" fill="#ee2a5c" text-anchor="middle" textLength="10.5" lengthAdjust="spacing">25</text>
<text class="c" x="587.5" y="441" font-size="9.5" fill="#4a4a4a" text-anchor="middle" textLength="10.5" lengthAdjust="spacing">26</text>
<text class="c" x="606.5" y="441" font-size="9.5" fill="#4a4a4a" text-anchor="middle" textLength="10.5" lengthAdjust="spacing">27</text>
<rect x="103" y="429" width="1" height="29" fill="#555"/>
<rect x="27" y="458" width="590" height="1" fill="#e4e4e4"/>
<text class="c" x="27.5" y="457" font-size="10.5" fill="#4a4a4a" textLength="37" lengthAdjust="spacing">Апрель</text>
<text class="c" x="107.5" y="457" font-size="10.5" fill="#4a4a4a" textLength="20" lengthAdjust="spacing">Май</text>
<text class="l" x="31" y="489.3" font-size="11.3" fill="#161616" font-weight="bold" textLength="70" lengthAdjust="spacingAndGlyphs">Менструация</text>
<path d="M38.7 498Q41.21 500.73 42.57 503.26A4.8 4.8 0 1 1 34.83 503.26Q36.19 500.73 38.7 498Z" fill="#ff4148"/>
<text class="l" x="51" y="508.8" font-size="10.8" fill="#1c1c1c" textLength="63" lengthAdjust="spacingAndGlyphs" stroke="#1c1c1c" stroke-width="0.25">Менструация</text>
<path d="M38.6 521.3Q40.40 523.69 41.41 525.87A3.3 3.3 0 1 1 35.79 525.87Q36.80 523.69 38.6 521.3Z" fill="#ff4148"/>
<text class="l" x="51" y="529.8" font-size="10.8" fill="#1c1c1c" textLength="110.5" lengthAdjust="spacingAndGlyphs" stroke="#1c1c1c" stroke-width="0.25">Небольшие выделения</text>
<text class="l" x="185" y="489.3" font-size="11.3" fill="#161616" font-weight="bold" textLength="91.8" lengthAdjust="spacingAndGlyphs">Тест на овуляцию</text>
<circle cx="192" cy="504.8" r="7.2" fill="#ffd342"/>
<text class="l" x="205" y="508.8" font-size="10.8" fill="#1c1c1c" textLength="76.8" lengthAdjust="spacingAndGlyphs" stroke="#1c1c1c" stroke-width="0.25">Положительный</text>
<circle cx="192" cy="524.8" r="6.6" fill="#fffef8" stroke="#ffd752" stroke-width="1"/>
<text class="l" x="205" y="529.8" font-size="10.8" fill="#1c1c1c" textLength="75" lengthAdjust="spacingAndGlyphs" stroke="#1c1c1c" stroke-width="0.25">Отрицательный</text>
<text class="l" x="315.2" y="489.3" font-size="11.3" fill="#161616" font-weight="bold" textLength="114.3" lengthAdjust="spacingAndGlyphs">Тест на беременность</text>
<rect x="316.9" y="498.0" width="3.2" height="13" rx="1.6" fill="#8fbf10"/>
<rect x="324.9" y="498.0" width="3.2" height="13" rx="1.6" fill="#8fbf10"/>
<text class="l" x="335" y="508.8" font-size="10.8" fill="#1c1c1c" textLength="76.8" lengthAdjust="spacingAndGlyphs" stroke="#1c1c1c" stroke-width="0.25">Положительный</text>
<rect x="320.79999999999995" y="518.8" width="3.2" height="13" rx="1.6" fill="#8fbf10"/>
<text class="l" x="335" y="529.8" font-size="10.8" fill="#1c1c1c" textLength="75" lengthAdjust="spacingAndGlyphs" stroke="#1c1c1c" stroke-width="0.25">Отрицательный</text>
<rect x="316.9" y="538.8" width="3.2" height="13" rx="1.6" fill="#8fbf10"/>
<rect x="324.9" y="538.8" width="3.2" height="13" rx="1.6" fill="#dfeabf"/>
<text class="l" x="335" y="549.8" font-size="10.8" fill="#1c1c1c" textLength="104" lengthAdjust="spacingAndGlyphs" stroke="#1c1c1c" stroke-width="0.25">Слабоположительный</text>
<text class="l" x="471" y="489.3" font-size="11.3" fill="#161616" font-weight="bold" textLength="128.6" lengthAdjust="spacingAndGlyphs">Цервикальная жидкость</text>
<path transform="translate(479.45,507.35)" d="M0 -4.95C1.1 -3.3 4.15 -1.1 4.15 0.9A4.15 4.15 0 0 1 -4.15 0.9C-4.15 -1.1 -1.1 -3.3 0 -4.95Z" fill="#fff" stroke="#7cc6f7" stroke-width="1"/>
<text class="l" x="492" y="510.5" font-size="10.8" fill="#1c1c1c" textLength="22.3" lengthAdjust="spacingAndGlyphs" stroke="#1c1c1c" stroke-width="0.25">Сухо</text>
<path transform="translate(479.4,528.45) scale(0.95,0.9)" d="M-4 -6H4V-5.3Q1.6 -4 0.9 -1.2V1.2Q1.6 4 4 5.3V6H-4V5.3Q-1.6 4 -0.9 1.2V-1.2Q-1.6 -4 -4 -5.3Z" fill="#70c1f6"/>
<text class="l" x="492" y="531.6" font-size="10.8" fill="#1c1c1c" textLength="40" lengthAdjust="spacingAndGlyphs" stroke="#1c1c1c" stroke-width="0.25">Клейкая</text>
<path transform="translate(479.6,548.4) scale(1,0.9)" d="M-4.8 -6C-0.6 -6.4 4.5 -3.4 4.5 1.7A4.25 4.25 0 0 1 -4 1.9C-4.1 0.3 -2.9 -0.8 -1 -0.6C-0.5 -2.6 -2.4 -4.8 -4.8 -6Z" fill="#70c1f6"/>
<text class="l" x="492" y="551.7" font-size="10.8" fill="#1c1c1c" textLength="76" lengthAdjust="spacingAndGlyphs" stroke="#1c1c1c" stroke-width="0.25">Кремообразная</text>
<path transform="translate(479.5,567.4) scale(0.92,0.9)" d="M0 -7.2C0.5 -5.6 0.9 -4.2 2 -2.9C3.4 -1.3 5.1 -0.2 5.1 1.8A5.1 4.8 0 0 1 -5.1 1.8C-5.1 -0.2 -3.4 -1.3 -2 -2.9C-0.9 -4.2 -0.5 -5.6 0 -7.2Z" fill="#70c1f6"/>
<text class="l" x="492" y="571.9" font-size="10.8" fill="#1c1c1c" textLength="55.5" lengthAdjust="spacingAndGlyphs" stroke="#1c1c1c" stroke-width="0.25">Водянистая</text>
<path transform="translate(479.45,587.1) scale(0.88,1)" d="M0 -6.2C2.9 -6.2 5.2 -2.6 5.2 0.9C5.2 4 3 6 0 6C-3 6 -5.2 4 -5.2 0.9C-5.2 -2.6 -2.9 -6.2 0 -6.2Z" fill="#70c1f6"/>
<text class="l" x="492" y="591.6" font-size="10.8" fill="#1c1c1c" textLength="68" lengthAdjust="spacingAndGlyphs" stroke="#1c1c1c" stroke-width="0.25">Яичный белок</text>
<path transform="translate(37.6,587.8) scale(1.08)" d="M0 5.6C-2.2 3.9 -6.2 1.4 -6.2 -2.1C-6.2 -4.2 -4.7 -5.6 -3.1 -5.6C-1.8 -5.6 -0.6 -4.9 0 -3.7C0.6 -4.9 1.8 -5.6 3.1 -5.6C4.7 -5.6 6.2 -4.2 6.2 -2.1C6.2 1.4 2.2 3.9 0 5.6Z" fill="#ff4db1"/>
<text class="l" x="51" y="591.8" font-size="10.8" fill="#1c1c1c" textLength="60.2" lengthAdjust="spacingAndGlyphs" stroke="#1c1c1c" stroke-width="0.25">Половой акт</text>
<g transform="translate(138.9,588)"><circle r="7.2" fill="#c1c1c1"/><path d="M-2.8 3.3L2.8 -3.5" stroke="#fff" stroke-width="1.9" stroke-linecap="round"/></g>
<text class="l" x="151" y="591.6" font-size="10.8" fill="#1c1c1c" textLength="77.4" lengthAdjust="spacingAndGlyphs" stroke="#1c1c1c" stroke-width="0.25">Прием лекарств</text>
<path transform="translate(258.6,587.8)" d="M-2.45 -6.9A7.2 7.2 0 1 0 6.95 2.3A7 7 0 0 1 -2.45 -6.9Z" fill="#f5981c"/>
<text class="l" x="270.8" y="591.9" font-size="10.8" fill="#1c1c1c" textLength="90.8" lengthAdjust="spacingAndGlyphs" stroke="#1c1c1c" stroke-width="0.25">Лунный календарь</text>
</svg>
</body>
</html>
